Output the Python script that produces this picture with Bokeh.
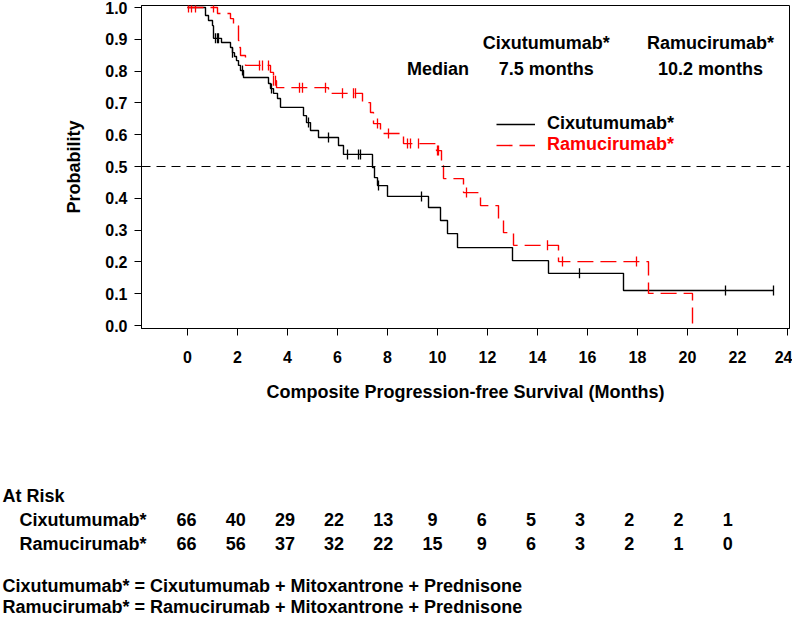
import numpy as np
from bokeh.plotting import figure
from bokeh.models import (Range1d, FixedTicker, NumeralTickFormatter, Span, Label,
                          Legend, LegendItem)
from bokeh.layouts import column
from bokeh.embed import file_html
from bokeh.resources import INLINE
from bokeh.core.properties import value

FONT = "Liberation Sans"

# ---------------- data ----------------
arms = ["Cixutumumab*", "Ramucirumab*"]
median_text = ["7.5 months", "10.2 months"]

cix_times = [0.72, 0.84, 1.00, 1.04, 1.36, 1.72, 1.80, 1.88, 1.96, 2.04, 2.12, 2.24,
             3.24, 3.32, 3.44, 3.60, 3.72, 4.64, 4.76, 4.92, 5.24, 6.04, 6.24, 7.40,
             7.48, 7.60, 8.00, 9.64, 10.12, 10.40, 10.80, 13.00, 14.44, 17.44]
cix_surv = [0.975, 0.959, 0.943, 0.903, 0.890, 0.874, 0.858, 0.846, 0.833, 0.818, 0.802, 0.780,
            0.761, 0.745, 0.730, 0.714, 0.686, 0.660, 0.638, 0.613, 0.591, 0.566, 0.538, 0.497,
            0.465, 0.440, 0.406, 0.371, 0.330, 0.289, 0.245, 0.204, 0.164, 0.110]
cix_censor = [1.12, 1.20, 1.24, 1.80, 2.20, 3.36, 4.84, 5.64, 6.40, 6.84, 6.92, 7.64,
              9.36, 15.68, 21.52, 23.44]
cix_last = 23.44

ram_times = [1.20, 1.72, 1.84, 2.04, 2.08, 2.12, 2.32, 3.32, 3.44, 3.56, 5.64, 7.00, 7.32,
             7.44, 7.72, 8.64, 9.96, 10.16, 10.24, 11.04, 11.72, 12.44, 12.64, 13.04,
             14.84, 18.44, 20.20]
ram_surv = [0.981, 0.965, 0.943, 0.896, 0.874, 0.849, 0.818, 0.796, 0.770, 0.748, 0.730, 0.701,
            0.670, 0.635, 0.604, 0.572, 0.550, 0.503, 0.462, 0.418, 0.377, 0.336, 0.292,
            0.252, 0.201, 0.101, 0.000]
ram_censor = [0.04, 0.16, 0.32, 1.04, 2.88, 3.00, 3.24, 3.44, 3.52, 4.48, 4.60, 5.52,
              6.20, 6.64, 6.72, 7.60, 8.04, 8.80, 8.92, 9.24, 10.00, 10.04, 11.16,
              14.40, 15.00, 17.96]

x_ticks = list(range(0, 25, 2))
y_ticks = [0.0, 0.1, 0.2, 0.3, 0.4, 0.5, 0.6, 0.7, 0.8, 0.9, 1.0]
median_line = 0.5

risk_times = [0, 2, 4, 6, 8, 10, 12, 14, 16, 18, 20, 22]
cix_risk = [66, 40, 29, 22, 13, 9, 6, 5, 3, 2, 2, 1]
ram_risk = [66, 56, 37, 32, 22, 15, 9, 6, 3, 2, 1, 0]

footnotes = ["Cixutumumab* = Cixutumumab + Mitoxantrone + Prednisone",
             "Ramucirumab* = Ramucirumab + Mitoxantrone + Prednisone"]

RED = "#FF0000"
BLACK = "#000000"


def step_xy(times, surv, last=None):
    x = [0.0] + list(times)
    y = [1.0] + list(surv)
    if last is not None:
        x.append(last)
        y.append(surv[-1])
    return x, y


def surv_at(times, surv, ts):
    t_arr = np.asarray(times)
    s_arr = np.asarray(surv)
    out = []
    for t in ts:
        i = np.searchsorted(t_arr, t, side="right") - 1
        out.append(1.0 if i < 0 else float(s_arr[i]))
    return out


# ---------------- top figure: KM curves ----------------
W = 792
H1 = 410
FL, FR, FT, FB = 141, 789, 5, 328          # frame edges (canvas px)

p = figure(width=W, height=H1, output_backend="svg", toolbar_location=None,
           x_range=Range1d(-1.84, 24.08), y_range=Range1d(-0.0094, 1.0063),
           min_border_left=FL, min_border_right=W - FR, min_border_top=FT,
           min_border_bottom=H1 - FB)
p.frame_align = False
p.xgrid.visible = False
p.ygrid.visible = False
p.outline_line_color = BLACK
p.outline_line_width = 1
p.background_fill_color = "white"
p.border_fill_color = "white"

for ax in (p.xaxis[0], p.yaxis[0]):
    ax.axis_line_color = BLACK
    ax.major_tick_line_color = BLACK
    ax.major_tick_out = 7
    ax.major_tick_in = 0
    ax.minor_tick_line_color = None
    ax.major_label_text_font = FONT
    ax.major_label_text_font_style = "bold"
    ax.major_label_text_font_size = "16px"
    ax.major_label_text_color = BLACK
    ax.axis_label_text_font = FONT
    ax.axis_label_text_font_style = "bold"
    ax.axis_label_text_font_size = "18px"
    ax.axis_label_text_color = BLACK

p.xaxis.ticker = FixedTicker(ticks=x_ticks)
p.yaxis.ticker = FixedTicker(ticks=y_ticks)
p.yaxis.formatter = NumeralTickFormatter(format="0.0")
p.xaxis.major_label_standoff = 15
p.yaxis.major_label_standoff = 7
p.xaxis.axis_label = "Composite Progression-free Survival (Months)"
p.yaxis.axis_label = "Probability"
p.xaxis.axis_label_standoff = 16
p.yaxis.axis_label_standoff = 18

p.add_layout(Span(location=median_line, dimension="width", line_color=BLACK,
                  line_width=1, line_dash="9 6"))

cx, cy = step_xy(cix_times, cix_surv, cix_last)
rx, ry = step_xy(ram_times, ram_surv)
r_cix = p.step(cx, cy, mode="after", line_color=BLACK, line_width=1.4)
r_ram = p.step(rx, ry, mode="after", line_color=RED, line_width=1.4, line_dash="16 7")

p.scatter(cix_censor, surv_at(cix_times, cix_surv, cix_censor), marker="dash",
          angle=np.pi / 2, size=10, line_color=BLACK, line_width=1.3)
p.scatter(ram_censor, surv_at(ram_times, ram_surv, ram_censor), marker="dash",
          angle=np.pi / 2, size=10, line_color=RED, line_width=1.3)

# median table
lab_kw = dict(text_font=FONT, text_font_style="bold", text_font_size="18px",
              text_align="center", text_baseline="middle", text_color=BLACK)
p.add_layout(Label(x=14.35, y=0.887, text=arms[0], **lab_kw))
p.add_layout(Label(x=20.92, y=0.887, text=arms[1], **lab_kw))
p.add_layout(Label(x=10.02, y=0.807, text="Median", **lab_kw))
p.add_layout(Label(x=14.35, y=0.807, text=median_text[0], **lab_kw))
p.add_layout(Label(x=20.92, y=0.807, text=median_text[1], **lab_kw))

# legends
leg_kw = dict(padding=0, margin=0, spacing=0, border_line_color=None,
              background_fill_alpha=0, glyph_width=39, glyph_height=20,
              label_height=20, label_standoff=12, label_text_font=FONT,
              label_text_font_style="bold", label_text_font_size="18px")
leg1 = Legend(items=[LegendItem(label=arms[0], renderers=[r_cix])],
              location=(355, 194), label_text_color=BLACK, **leg_kw)
leg2 = Legend(items=[LegendItem(label=arms[1], renderers=[r_ram])],
              location=(355, 173), label_text_color=RED, **leg_kw)
p.add_layout(leg1)
p.add_layout(leg2)

# ---------------- bottom figure: at-risk table + footnotes ----------------
H2 = 208
risk_px = 24.6          # px per month in the at-risk table
risk_x0 = 186           # canvas px of month 0 in the table
p2 = figure(width=W, height=H2, output_backend="svg", toolbar_location=None,
            x_range=Range1d(-risk_x0 / risk_px, (W - risk_x0) / risk_px),
            y_range=Range1d(H2, 0),
            x_axis_location=None, y_axis_location=None,
            min_border_left=0, min_border_right=0, min_border_top=0, min_border_bottom=0)
p2.frame_align = False
p2.xgrid.visible = False
p2.ygrid.visible = False
p2.outline_line_color = None
p2.background_fill_color = "white"
p2.border_fill_color = "white"

tx_left = (2 - risk_x0) / risk_px
tx_row = (19 - risk_x0) / risk_px
y_head, y_rows, y_foot = 85, [109, 133], [175, 196]

txt_kw = dict(text_font=value(FONT), text_font_style="bold", text_font_size="18px",
              text_baseline="middle", text_color=BLACK)
p2.text(x=[tx_left], y=[y_head], text=["At Risk"], text_align="left", **txt_kw)
p2.text(x=[tx_row, tx_row], y=y_rows, text=arms, text_align="left", **txt_kw)
p2.text(x=risk_times, y=[y_rows[0]] * len(risk_times), text=[str(v) for v in cix_risk],
        text_align="center", **txt_kw)
p2.text(x=risk_times, y=[y_rows[1]] * len(risk_times), text=[str(v) for v in ram_risk],
        text_align="center", **txt_kw)
p2.text(x=[tx_left, tx_left], y=y_foot, text=footnotes, text_align="left", **txt_kw)

layout = column(p, p2, spacing=0)
html = file_html(layout, INLINE)
open("out.html", "w").write(html)
